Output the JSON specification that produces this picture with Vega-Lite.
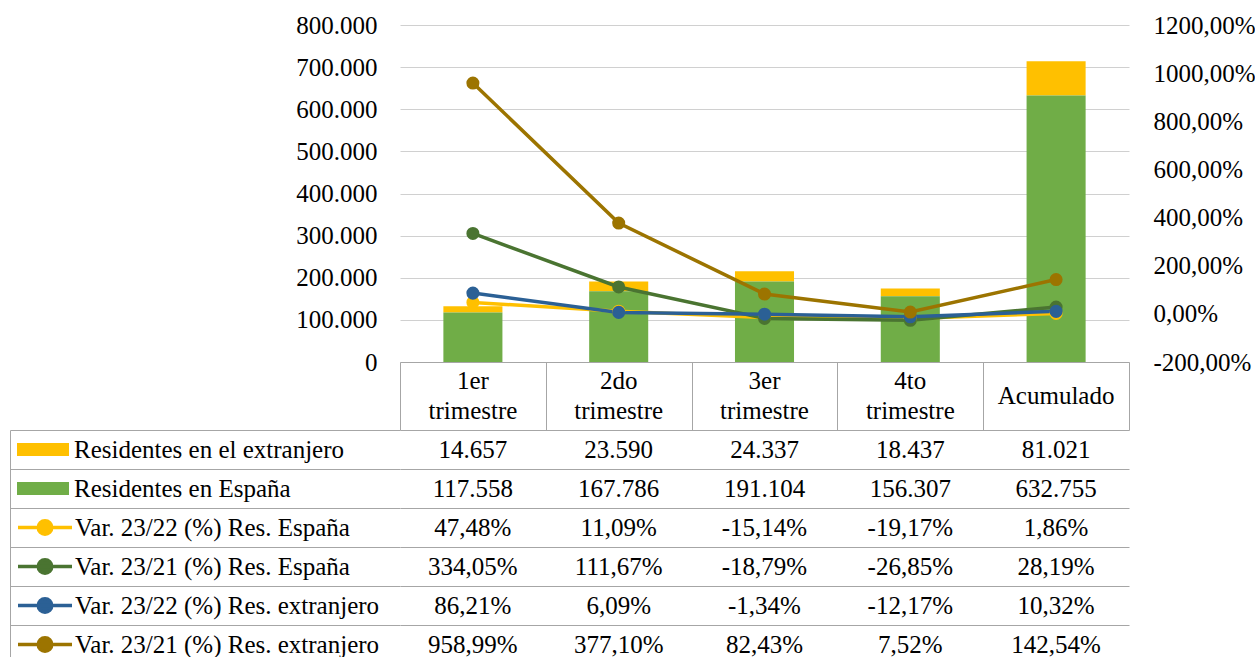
{
  "$schema": "https://vega.github.io/schema/vega-lite/v6.json",
  "background": "white",
  "padding": {"left": 9, "top": 13, "right": 0, "bottom": 0},
  "config": {
    "font": "Liberation Serif",
    "view": {"stroke": null},
    "locale": {"number": {"decimal": ",", "thousands": ".", "grouping": [3], "currency": ["", " €"], "minus": "-"}},
    "axis": {"labelFont": "Liberation Serif", "labelFontSize": 25, "labelColor": "#000000", "title": null},
    "text": {"font": "Liberation Serif", "fontSize": 25, "color": "#000000"}
  },
  "data": {"values": [
    {"categoria": "1er trimestre", "serie": "Residentes en el extranjero", "valor": 14657},
    {"categoria": "2do trimestre", "serie": "Residentes en el extranjero", "valor": 23590},
    {"categoria": "3er trimestre", "serie": "Residentes en el extranjero", "valor": 24337},
    {"categoria": "4to trimestre", "serie": "Residentes en el extranjero", "valor": 18437},
    {"categoria": "Acumulado", "serie": "Residentes en el extranjero", "valor": 81021},
    {"categoria": "1er trimestre", "serie": "Residentes en España", "valor": 117558},
    {"categoria": "2do trimestre", "serie": "Residentes en España", "valor": 167786},
    {"categoria": "3er trimestre", "serie": "Residentes en España", "valor": 191104},
    {"categoria": "4to trimestre", "serie": "Residentes en España", "valor": 156307},
    {"categoria": "Acumulado", "serie": "Residentes en España", "valor": 632755},
    {"categoria": "1er trimestre", "serie": "Var. 23/22 (%) Res. España", "valor": 0.4748},
    {"categoria": "2do trimestre", "serie": "Var. 23/22 (%) Res. España", "valor": 0.1109},
    {"categoria": "3er trimestre", "serie": "Var. 23/22 (%) Res. España", "valor": -0.1514},
    {"categoria": "4to trimestre", "serie": "Var. 23/22 (%) Res. España", "valor": -0.1917},
    {"categoria": "Acumulado", "serie": "Var. 23/22 (%) Res. España", "valor": 0.0186},
    {"categoria": "1er trimestre", "serie": "Var. 23/21 (%) Res. España", "valor": 3.3405},
    {"categoria": "2do trimestre", "serie": "Var. 23/21 (%) Res. España", "valor": 1.1167},
    {"categoria": "3er trimestre", "serie": "Var. 23/21 (%) Res. España", "valor": -0.1879},
    {"categoria": "4to trimestre", "serie": "Var. 23/21 (%) Res. España", "valor": -0.2685},
    {"categoria": "Acumulado", "serie": "Var. 23/21 (%) Res. España", "valor": 0.2819},
    {"categoria": "1er trimestre", "serie": "Var. 23/22 (%) Res. extranjero", "valor": 0.8621},
    {"categoria": "2do trimestre", "serie": "Var. 23/22 (%) Res. extranjero", "valor": 0.0609},
    {"categoria": "3er trimestre", "serie": "Var. 23/22 (%) Res. extranjero", "valor": -0.0134},
    {"categoria": "4to trimestre", "serie": "Var. 23/22 (%) Res. extranjero", "valor": -0.1217},
    {"categoria": "Acumulado", "serie": "Var. 23/22 (%) Res. extranjero", "valor": 0.1032},
    {"categoria": "1er trimestre", "serie": "Var. 23/21 (%) Res. extranjero", "valor": 9.5899},
    {"categoria": "2do trimestre", "serie": "Var. 23/21 (%) Res. extranjero", "valor": 3.771},
    {"categoria": "3er trimestre", "serie": "Var. 23/21 (%) Res. extranjero", "valor": 0.8243},
    {"categoria": "4to trimestre", "serie": "Var. 23/21 (%) Res. extranjero", "valor": 0.0752},
    {"categoria": "Acumulado", "serie": "Var. 23/21 (%) Res. extranjero", "valor": 1.4254}
  ]},
  "bounds": "flush",
  "spacing": 0,
  "vconcat": [
    {
      "width": 729,
      "height": 337,
      "layer": [
        {
          "transform": [{"filter": {"field": "serie", "oneOf": ["Residentes en el extranjero", "Residentes en España"]}}],
          "mark": {"type": "bar", "width": {"band": 0.405}, "opacity": 1},
          "encoding": {
            "x": {"field": "categoria", "type": "nominal", "sort": ["1er trimestre", "2do trimestre", "3er trimestre", "4to trimestre", "Acumulado"], "scale": {"type": "band", "paddingInner": 0, "paddingOuter": 0}, "axis": null},
            "y": {"field": "valor", "type": "quantitative", "stack": "zero", "scale": {"domain": [0, 800000], "nice": false}, "axis": {"orient": "left", "values": [0, 100000, 200000, 300000, 400000, 500000, 600000, 700000, 800000], "format": ",.0f", "labelFont": "Liberation Serif", "labelFontSize": 25, "labelColor": "#000000", "grid": true, "gridColor": "#D0D0D0", "gridWidth": 1, "ticks": false, "domain": false, "labelPadding": 23}},
            "color": {"field": "serie", "type": "nominal", "scale": {"domain": ["Residentes en el extranjero", "Residentes en España"], "range": ["#FFC000", "#70AD47"]},
              "legend": {"orient": "none", "legendX": -383, "legendY": 405, "title": null, "symbolType": "M-1,-0.25H1V0.25H-1Z", "symbolSize": 2704, "symbolStrokeWidth": 0, "clipHeight": 39, "rowPadding": 0, "labelFont": "Liberation Serif", "labelFontSize": 25, "labelColor": "#000000", "labelLimit": 0, "labelOffset": 5, "padding": 0, "symbolOffset": 0}},
            "order": {"field": "serie", "sort": "ascending"}
          }
        },
        {
          "transform": [{"filter": {"field": "serie", "oneOf": ["Var. 23/22 (%) Res. España", "Var. 23/21 (%) Res. España", "Var. 23/22 (%) Res. extranjero", "Var. 23/21 (%) Res. extranjero"]}}],
          "mark": {"type": "line", "strokeWidth": 3.5},
          "encoding": {
            "x": {"field": "categoria", "type": "nominal", "sort": ["1er trimestre", "2do trimestre", "3er trimestre", "4to trimestre", "Acumulado"], "axis": null},
            "y": {"field": "valor", "type": "quantitative", "scale": {"domain": [-2, 12], "nice": false}, "axis": {"orient": "right", "values": [-2, 0, 2, 4, 6, 8, 10, 12], "format": ".2%", "labelFont": "Liberation Serif", "labelFontSize": 25, "labelColor": "#000000", "grid": false, "ticks": false, "domain": false, "labelPadding": 24}},
            "stroke": {"field": "serie", "type": "nominal", "scale": {"domain": ["Var. 23/22 (%) Res. España", "Var. 23/21 (%) Res. España", "Var. 23/22 (%) Res. extranjero", "Var. 23/21 (%) Res. extranjero"], "range": ["#FFC000", "#4A7431", "#2B6095", "#9C7400"]},
              "legend": {"orient": "none", "legendX": -384, "legendY": 483, "title": null, "symbolType": "M-1,0H1M0.25,0A0.25,0.25,0,1,1,-0.25,0A0.25,0.25,0,1,1,0.25,0Z", "symbolSize": 2916, "symbolStrokeWidth": 3.5, "clipHeight": 39, "rowPadding": 0, "labelFont": "Liberation Serif", "labelFontSize": 25, "labelColor": "#000000", "labelLimit": 0, "labelOffset": 1, "padding": 0, "symbolOffset": 0}}
          }
        },
        {
          "transform": [{"filter": {"field": "serie", "oneOf": ["Var. 23/22 (%) Res. España", "Var. 23/21 (%) Res. España", "Var. 23/22 (%) Res. extranjero", "Var. 23/21 (%) Res. extranjero"]}}],
          "mark": {"type": "circle", "size": 170, "opacity": 1},
          "encoding": {
            "x": {"field": "categoria", "type": "nominal", "sort": ["1er trimestre", "2do trimestre", "3er trimestre", "4to trimestre", "Acumulado"], "axis": null},
            "y": {"field": "valor", "type": "quantitative", "scale": {"domain": [-2, 12], "nice": false}, "axis": null},
            "fill": {"field": "serie", "type": "nominal", "scale": {"domain": ["Var. 23/22 (%) Res. España", "Var. 23/21 (%) Res. España", "Var. 23/22 (%) Res. extranjero", "Var. 23/21 (%) Res. extranjero"], "range": ["#FFC000", "#4A7431", "#2B6095", "#9C7400"]},
              "legend": {"orient": "none", "legendX": -384, "legendY": 483, "title": null, "symbolType": "M-1,0H1M0.25,0A0.25,0.25,0,1,1,-0.25,0A0.25,0.25,0,1,1,0.25,0Z", "symbolSize": 2916, "symbolStrokeWidth": 3.5, "clipHeight": 39, "rowPadding": 0, "labelFont": "Liberation Serif", "labelFontSize": 25, "labelColor": "#000000", "labelLimit": 0, "labelOffset": 1, "padding": 0, "symbolOffset": 0}}
          }
        }
      ],
      "resolve": {"scale": {"y": "independent"}, "axis": {"y": "independent"}}
    },
    {
      "width": 729,
      "height": 68,
      "transform": [{"filter": {"field": "serie", "equal": "Residentes en España"}}],
      "mark": {"type": "text", "font": "Liberation Serif", "lineBreak": " ", "lineHeight": 30, "fontSize": 25, "color": "#000000", "dy": {"expr": "indexof(datum.categoria, ' ') >= 0 ? -15 : 0"}},
      "encoding": {
        "x": {"field": "categoria", "type": "nominal", "sort": ["1er trimestre", "2do trimestre", "3er trimestre", "4to trimestre", "Acumulado"], "scale": {"type": "band", "paddingInner": 0, "paddingOuter": 0}, "axis": {"orient": "top", "tickBand": "extent", "grid": true, "gridColor": "#A6A6A6", "gridWidth": 1, "ticks": false, "labels": false, "domain": true, "domainColor": "#A6A6A6", "domainWidth": 1}},
        "text": {"field": "categoria", "type": "nominal"}
      }
    },
    {
      "width": 729,
      "height": 234,
      "layer": [
        {
          "transform": [{"filter": {"field": "serie", "oneOf": ["Residentes en el extranjero", "Residentes en España"]}}],
          "mark": {"type": "text", "font": "Liberation Serif", "fontSize": 25, "color": "#000000"},
          "encoding": {
            "x": {"field": "categoria", "type": "nominal", "sort": ["1er trimestre", "2do trimestre", "3er trimestre", "4to trimestre", "Acumulado"], "scale": {"type": "band", "paddingInner": 0, "paddingOuter": 0}, "axis": {"orient": "top", "tickBand": "extent", "grid": true, "gridColor": "#A6A6A6", "gridWidth": 1, "ticks": false, "labels": false, "domain": false}},
            "y": {"field": "serie", "type": "nominal", "sort": ["Residentes en el extranjero", "Residentes en España", "Var. 23/22 (%) Res. España", "Var. 23/21 (%) Res. España", "Var. 23/22 (%) Res. extranjero", "Var. 23/21 (%) Res. extranjero"], "scale": {"type": "band", "paddingInner": 0, "paddingOuter": 0}, "axis": {"orient": "left", "tickBand": "extent", "grid": true, "gridColor": "#A6A6A6", "gridWidth": 1, "ticks": true, "tickSize": 390, "tickColor": "#A6A6A6", "tickWidth": 1, "labels": false, "domain": false}},
            "text": {"field": "valor", "type": "quantitative", "format": ",.0f"}
          }
        },
        {
          "transform": [{"filter": {"field": "serie", "oneOf": ["Var. 23/22 (%) Res. España", "Var. 23/21 (%) Res. España", "Var. 23/22 (%) Res. extranjero", "Var. 23/21 (%) Res. extranjero"]}}],
          "mark": {"type": "text", "font": "Liberation Serif", "fontSize": 25, "color": "#000000"},
          "encoding": {
            "x": {"field": "categoria", "type": "nominal", "sort": ["1er trimestre", "2do trimestre", "3er trimestre", "4to trimestre", "Acumulado"], "axis": null},
            "y": {"field": "serie", "type": "nominal", "sort": ["Residentes en el extranjero", "Residentes en España", "Var. 23/22 (%) Res. España", "Var. 23/21 (%) Res. España", "Var. 23/22 (%) Res. extranjero", "Var. 23/21 (%) Res. extranjero"], "axis": null},
            "text": {"field": "valor", "type": "quantitative", "format": ".2%"}
          }
        },
        {
          "mark": {"type": "text"},
          "encoding": {
            "y": {"field": "serie", "type": "nominal", "sort": ["Residentes en el extranjero", "Residentes en España", "Var. 23/22 (%) Res. España", "Var. 23/21 (%) Res. España", "Var. 23/22 (%) Res. extranjero", "Var. 23/21 (%) Res. extranjero"], "axis": {"orient": "left", "offset": 390, "domain": true, "domainColor": "#A6A6A6", "domainWidth": 1, "ticks": false, "labels": false, "grid": false}},
            "text": {"value": ""}
          }
        }
      ],
      "resolve": {"axis": {"y": "independent"}}
    }
  ]
}
